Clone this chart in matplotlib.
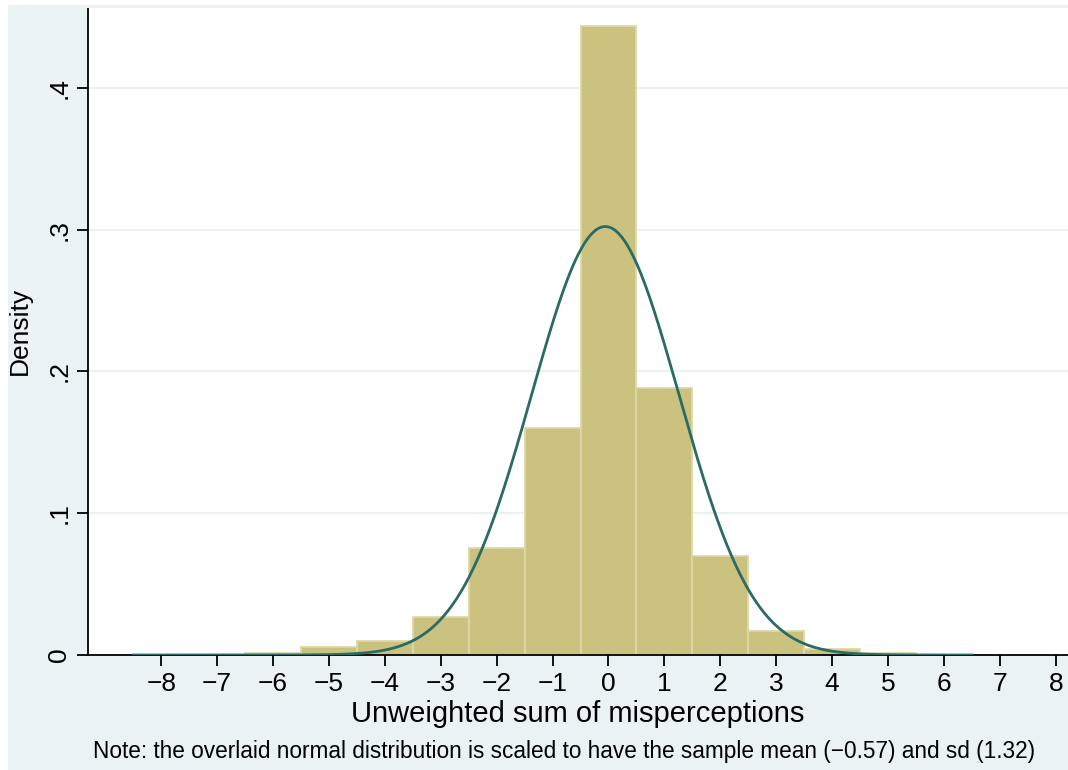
import numpy as np
import matplotlib.pyplot as plt
from matplotlib.patches import Rectangle

# histogram bins (centred on integers) and densities
bin_centers = [-8, -7, -6, -5, -4, -3, -2, -1, 0, 1, 2, 3, 4, 5]
densities = [0.0, 0.0, 0.0014, 0.0054, 0.0096, 0.027, 0.0755, 0.160,
             0.4437, 0.188, 0.070, 0.017, 0.0042, 0.0014]

# overlaid normal curve
norm_mean = -0.057
norm_sd = 1.32
curve_range = (-8.5, 6.5)

x_ticks = list(range(-8, 9))
y_ticks = [0, 0.1, 0.2, 0.3, 0.4]
y_ticklabels = ['0', '.1', '.2', '.3', '.4']

plt.rcParams['font.family'] = ['Liberation Sans', 'DejaVu Sans']

bg = '#EAF2F3'
fig = plt.figure(figsize=(10.68, 7.7), dpi=100, facecolor=bg)
# thin white margin on the left/top like the original export
fig.patches.append(Rectangle((0, 0), 0.0075, 1, transform=fig.transFigure,
                             facecolor='white', edgecolor='none', zorder=-1))
fig.patches.append(Rectangle((0, 0.993), 1, 0.007, transform=fig.transFigure,
                             facecolor='white', edgecolor='none', zorder=-1))

ax = fig.add_axes([88 / 1068, 115 / 770, 1 - 88 / 1068, (655 - 7) / 770])
ax.set_facecolor('white')

# gridlines
for yv in y_ticks[1:]:
    ax.axhline(yv, color=bg, lw=1.5, zorder=0)

ax.bar(bin_centers, densities, width=1.0, color='#CAC27E',
       edgecolor='#DDD8A8', linewidth=1.3, zorder=2)

xs = np.linspace(curve_range[0], curve_range[1], 600)
ys = np.exp(-0.5 * ((xs - norm_mean) / norm_sd) ** 2) / (norm_sd * np.sqrt(2 * np.pi))
ax.plot(xs, ys, color='#2A6B66', lw=2.0, zorder=3)

ax.set_xlim(-9.31, 8.22)
ax.set_ylim(0, 0.4571)

ax.spines['right'].set_visible(False)
ax.spines['top'].set_color(bg)
ax.spines['top'].set_linewidth(1.5)
ax.spines['left'].set_linewidth(1.3)
ax.spines['bottom'].set_linewidth(1.3)

ax.set_xticks(x_ticks)
ax.set_xticklabels([str(t).replace('-', '\u2212') for t in x_ticks])
ax.set_yticks(y_ticks)
ax.set_yticklabels(y_ticklabels, rotation=90, va='center')
ax.tick_params(axis='x', length=8, width=1.3, labelsize=19, pad=4)
ax.tick_params(axis='y', length=8, width=1.3, labelsize=19, pad=4)

ax.set_xlabel('Unweighted sum of misperceptions', fontsize=21, labelpad=3)
ax.set_ylabel('Density', fontsize=19)
ax.yaxis.set_label_coords(-0.057, 0.5)

fig.text(0.528, 0.0156,
         'Note: the overlaid normal distribution is scaled to have the sample mean (\u22120.57) and sd (1.32)',
         ha='center', va='baseline', fontsize=16.3)

fig.savefig('out.png', dpi=100, facecolor=bg)
